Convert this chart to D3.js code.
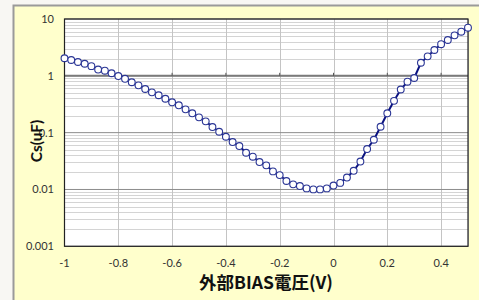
<!DOCTYPE html>
<html><head><meta charset="utf-8">
<script src="https://cdn.jsdelivr.net/npm/d3@7"></script>
<style>
html,body{margin:0;padding:0;background:#f8f7f3;}
svg{display:block;}
</style></head>
<body>
<svg id="c" width="479" height="300"></svg>
<script>
const xTicks = [-1, -0.8, -0.6, -0.4, -0.2, 0, 0.2, 0.4];
const yTicks = [0.001, 0.01, 0.1, 1, 10];
const yTickLabels = ["0.001", "0.01", "0.1", "1", "10"];
const biasV = [
 -1,-0.975,-0.95,-0.925,-0.9,-0.875,-0.85,-0.825,-0.8,-0.775,
 -0.75,-0.725,-0.7,-0.675,-0.65,-0.625,-0.6,-0.575,-0.55,-0.525,
 -0.5,-0.475,-0.45,-0.425,-0.4,-0.375,-0.35,-0.325,-0.3,-0.275,
 -0.25,-0.225,-0.2,-0.175,-0.15,-0.125,-0.1,-0.075,-0.05,-0.025,
 0,0.025,0.05,0.075,0.1,0.125,0.15,0.175,0.2,0.225,
 0.25,0.275,0.3,0.325,0.35,0.375,0.4,0.425,0.45,0.475,0.5];
const csUF = [
 2.04,1.90,1.75,1.63,1.48,1.29,1.23,1.11,0.99,0.886,
 0.771,0.680,0.586,0.512,0.455,0.395,0.342,0.303,0.257,0.219,
 0.186,0.158,0.1255,0.1037,0.0847,0.0683,0.0581,0.0443,0.0377,0.0304,
 0.0266,0.0208,0.0179,0.0141,0.0123,0.0115,0.01045,0.01004,0.01004,0.01045,
 0.01172,0.01306,0.0162,0.0213,0.0310,0.0515,0.0750,0.127,0.219,0.363,
 0.574,0.788,0.915,1.70,2.20,2.85,3.60,4.27,5.16,5.98,7.03];
const xTitle = "外部BIAS電圧(V)";
const yTitle = "Cs(uF)";

const svg = d3.select("#c");
svg.append("rect").attr("x",13.5).attr("y",5.5).attr("width",470).attr("height",300)
  .attr("fill","#ffffcc").attr("stroke","#9a9a9a").attr("stroke-width",2);

const L=64.5, R=468, T=19, B=246.3;
const x = d3.scaleLinear().domain([-1,0.5]).range([L,R]);
const y = d3.scaleLog().domain([0.001,10]).range([B,T]);

svg.append("rect").attr("x",L).attr("y",T).attr("width",R-L).attr("height",B-T).attr("fill","#ffffff");

const g = svg.append("g");
const minor = [];
for (let e=-3;e<1;e++) for (let m=2;m<10;m++) minor.push(m*Math.pow(10,e));
g.selectAll(".mn").data(minor).enter().append("line")
  .attr("x1",L).attr("x2",R).attr("y1",d=>Math.round(y(d))+0.5).attr("y2",d=>Math.round(y(d))+0.5)
  .attr("stroke","#d4d4d4").attr("stroke-width",1);
g.selectAll(".vg").data(xTicks.concat([0.5]).slice(1)).enter().append("line")
  .attr("x1",d=>Math.round(x(d))+0.5).attr("x2",d=>Math.round(x(d))+0.5).attr("y1",T).attr("y2",B)
  .attr("stroke","#c4c4c4").attr("stroke-width",1);
g.selectAll(".mj").data(yTicks).enter().append("line")
  .attr("x1",L).attr("x2",R).attr("y1",d=>y(d)).attr("y2",d=>y(d))
  .attr("stroke","#8c8c8c").attr("stroke-width",1);
g.append("line").attr("x1",L).attr("x2",R).attr("y1",y(1)).attr("y2",y(1)).attr("stroke","#7a7a7a").attr("stroke-width",2);
g.selectAll(".tk").data(xTicks.slice(1)).enter().append("line")
  .attr("x1",d=>x(d)).attr("x2",d=>x(d)).attr("y1",y(1)-3).attr("y2",y(1))
  .attr("stroke","#555").attr("stroke-width",1);
svg.append("rect").attr("x",L).attr("y",T).attr("width",R-L).attr("height",B-T)
  .attr("fill","none").attr("stroke","#222").attr("stroke-width",1.2);

svg.selectAll(".yl").data(yTicks).enter().append("text")
  .attr("x",54).attr("y",d=>y(d)).attr("dy","0.35em").attr("text-anchor","end")
  .attr("font-family","Lato, 'Liberation Sans', sans-serif").attr("font-size",11).attr("fill","#333")
  .text((d,i)=>yTickLabels[i]);
svg.selectAll(".xl").data(xTicks).enter().append("text")
  .attr("x",d=>x(d)).attr("y",263).attr("dy","0.35em").attr("text-anchor","middle")
  .attr("font-family","Lato, 'Liberation Sans', sans-serif").attr("font-size",11).attr("fill","#333")
  .text(d=>d3.format("")(d).replace("−","-"));

const pts = biasV.map((v,i)=>[v,csUF[i]]);
svg.append("path").datum(pts)
  .attr("d", d3.line().x(d=>x(d[0])).y(d=>y(d[1])))
  .attr("fill","none").attr("stroke","#0a1280").attr("stroke-width",2);
svg.selectAll(".pt").data(pts).enter().append("circle")
  .attr("cx",d=>x(d[0])).attr("cy",d=>y(d[1])).attr("r",3.4)
  .attr("fill","#ffffff").attr("stroke","#2a3595").attr("stroke-width",1.1);

svg.append("text").attr("x",266).attr("y",289)
  .attr("text-anchor","middle").attr("font-family","'Noto Sans CJK JP', sans-serif")
  .attr("font-weight","bold").attr("font-size",17.5).attr("fill","#111").text(xTitle);
svg.append("text").attr("transform","translate(42,141) rotate(-90)")
  .attr("text-anchor","middle").attr("font-family","Lato, 'Liberation Sans', sans-serif")
  .attr("font-weight","bold").attr("font-size",15.5).attr("fill","#111").text(yTitle);
</script>
</body></html>
